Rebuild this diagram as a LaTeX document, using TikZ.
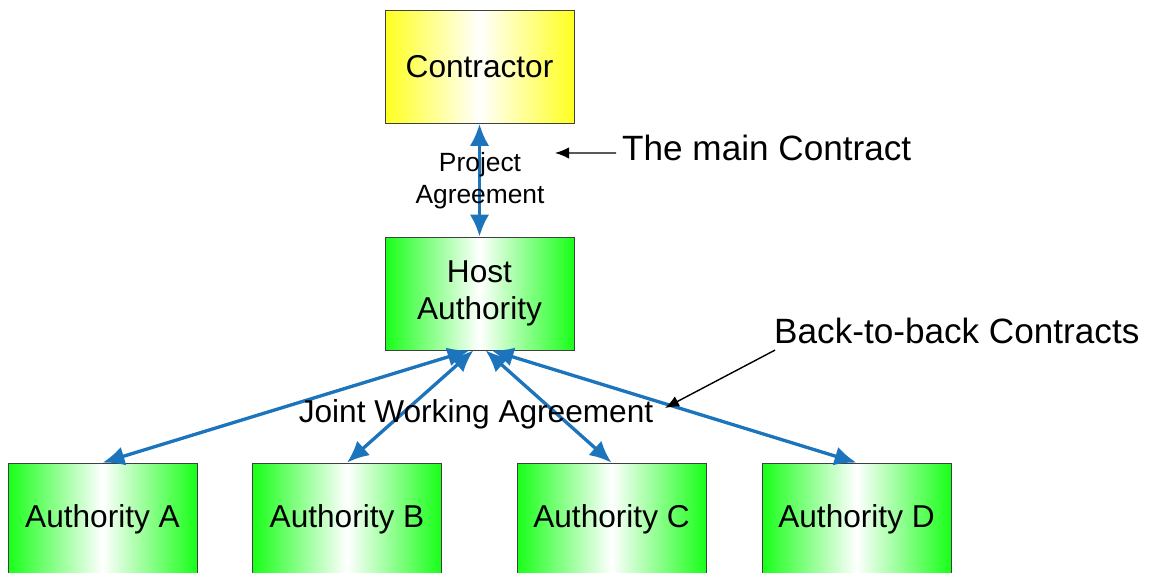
\documentclass[tikz,border=0pt]{standalone}
\usepackage{fontspec}
\setmainfont{Liberation Sans}
\usetikzlibrary{arrows.meta}
\definecolor{boxgreen}{RGB}{24,255,24}
\definecolor{boxyellow}{RGB}{255,255,32}
\definecolor{linkblue}{RGB}{28,117,188}
\tikzset{
  party/.style={rectangle, draw=black!75, minimum width=3.78cm, minimum height=2.26cm,
    align=center, font=\fontsize{18}{21.5}\selectfont,
    left color=boxgreen, right color=boxgreen, middle color=white},
  link/.style={linkblue, line width=1.9pt,
    {Latex[length=12.5pt,width=11pt]}-{Latex[length=12.5pt,width=11pt]}},
  note/.style={font=\fontsize{20}{24}\selectfont, anchor=west},
  pointer/.style={-{Latex[length=8pt,width=6.5pt]}, line width=0.8pt}
}
\begin{document}
\begin{tikzpicture}[x=0.02cm, y=-0.02cm]
  \useasboundingbox (0,0) rectangle (1152,573);
  \clip (0,0) rectangle (1152,573);

  % the parties
  \node[party, left color=boxyellow, right color=boxyellow, middle color=white] (contractor) at (479.5,67) {Contractor};
  \node[party] (host) at (479.5,293.5) {Host\\Authority};
  \node[party] (authA) at (102.5,519.5) {Authority A};
  \node[party] (authB) at (347,519.5) {Authority B};
  \node[party] (authC) at (611.5,519.5) {Authority C};
  \node[party] (authD) at (856.5,519.5) {Authority D};

  % agreements
  \draw[link] (contractor.south) -- (host.north);
  \draw[link] ([xshift=-0.2cm]host.south) -- (authA.north);
  \draw[link] ([xshift=-0.12cm]host.south) -- (authB.north);
  \draw[link] ([xshift=0.12cm]host.south) -- (authC.north);
  \draw[link] ([xshift=0.24cm]host.south) -- (authD.north);

  \node[align=center, font=\fontsize{15}{18}\selectfont] (project) at (480,181) {Project\\Agreement};
  \node[font=\fontsize{18}{21}\selectfont] (joint) at (476,414) {Joint Working Agreement};

  % annotations
  \node[note] (mainnote) at (616,148) {The main Contract};
  \node[note] (b2bnote) at (768,331) {Back-to-back Contracts};
  \coordinate (pa) at (555,153);
  \coordinate (pb) at (665,408);
  \draw[pointer] ([yshift=-0.1cm]mainnote.west) -- (pa);
  \draw[pointer] ([xshift=0.14cm]b2bnote.south west) -- (pb);
\end{tikzpicture}
\end{document}
